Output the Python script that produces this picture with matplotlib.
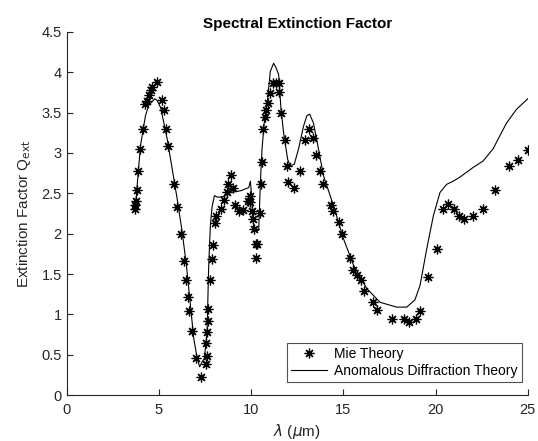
import matplotlib
matplotlib.use("Agg")
import matplotlib.pyplot as plt

plt.rcParams['font.family'] = ['Liberation Sans', 'DejaVu Sans']
plt.rcParams['mathtext.fontset'] = 'dejavusans'

mie_x = [3.68, 3.72, 3.75, 3.81, 3.88, 4.00, 4.11, 4.26, 4.33, 4.47, 4.55, 4.65, 4.89,
         5.14, 5.30, 5.41, 5.50, 5.84, 5.97, 6.20, 6.37, 6.49, 6.58, 6.64, 6.80, 7.00,
         7.29, 7.54, 7.58, 7.56, 7.63, 7.67, 7.68, 7.77, 7.87, 7.95, 8.06, 8.12, 8.35,
         8.53, 8.69, 8.75, 8.90, 9.02, 9.13, 9.33, 9.56, 9.81, 9.92, 9.96, 10.05, 10.08,
         10.14, 10.25, 10.34, 10.28, 10.46, 10.54, 10.57, 10.66, 10.75, 10.81, 10.91,
         11.04, 11.16, 11.35, 11.49, 11.49, 11.60, 11.81, 11.94, 12.00, 12.34, 12.63,
         12.92, 13.16, 13.35, 13.51, 13.74, 13.90, 14.32, 14.45, 14.74, 14.90, 15.35,
         15.55, 15.73, 15.93, 16.13, 16.61, 16.85, 17.66, 18.29, 18.56, 18.92, 19.16,
         19.61, 20.09, 20.42, 20.65, 21.00, 21.25, 21.54, 22.04, 22.55, 23.23, 23.99,
         24.46, 25.00]
mie_y = [2.30, 2.35, 2.40, 2.54, 2.77, 3.05, 3.30, 3.61, 3.64, 3.72, 3.78, 3.81, 3.88,
         3.65, 3.53, 3.29, 3.08, 2.61, 2.33, 1.99, 1.66, 1.43, 1.21, 1.04, 0.79, 0.46,
         0.22, 0.38, 0.48, 0.64, 0.78, 0.92, 1.07, 1.43, 1.69, 1.86, 2.13, 2.22, 2.31,
         2.42, 2.52, 2.62, 2.72, 2.56, 2.36, 2.28, 2.29, 2.41, 2.47, 2.39, 2.28, 2.18,
         2.06, 1.87, 1.87, 1.70, 2.26, 2.62, 2.89, 3.29, 3.44, 3.53, 3.62,
         3.74, 3.86, 3.86, 3.87, 3.75, 3.49, 3.16, 2.84, 2.64, 2.56, 2.77,
         3.16, 3.29, 3.18, 2.97, 2.77, 2.61, 2.35, 2.28, 2.15, 2.00, 1.70,
         1.55, 1.49, 1.42, 1.29, 1.15, 1.06, 0.94, 0.94, 0.90, 0.94, 1.04,
         1.46, 1.81, 2.31, 2.37, 2.31, 2.22, 2.18, 2.22, 2.31, 2.54, 2.84,
         2.91, 3.03]

adt_x = [3.70, 3.79, 4.00, 4.27, 4.45, 4.78, 4.90, 5.09, 5.27, 5.45, 5.72, 5.99, 6.26,
         6.49, 6.71, 6.89, 7.07, 7.21, 7.34, 7.47, 7.61, 7.70, 7.79, 7.88, 8.01, 8.19,
         8.51, 8.87, 9.42, 9.87, 9.96, 10.01, 10.14, 10.32, 10.41, 10.50, 10.59, 10.71,
         10.89, 11.04, 11.22, 11.36, 11.49, 11.62, 11.76, 11.98, 12.12, 12.34, 12.57,
         12.84, 13.02, 13.17, 13.38, 13.65, 13.92, 14.46, 15.00, 15.55, 16.27, 16.99,
         17.89, 18.44, 18.88, 19.16, 19.52, 19.88, 20.24, 20.60, 20.96, 21.32, 21.68,
         22.04, 22.58, 23.12, 23.48, 23.85, 24.39, 25.00]
adt_y = [2.28, 2.51, 3.09, 3.46, 3.59, 3.67, 3.65, 3.56, 3.37, 3.17, 2.80, 2.43, 2.02,
         1.61, 1.11, 0.70, 0.46, 0.35, 0.41, 0.46, 0.79, 1.61, 2.10, 2.33, 2.47, 2.45,
         2.46, 2.51, 2.53, 2.57, 2.65, 2.51, 2.06, 2.04, 2.04, 2.63, 3.05, 3.37,
         3.66, 4.01, 4.11, 4.05, 3.97, 3.54, 3.25, 2.92, 2.84, 2.86, 3.05,
         3.33, 3.46, 3.48, 3.37, 3.05, 2.72, 2.35, 1.94, 1.61, 1.32, 1.15,
         1.09, 1.09, 1.18, 1.36, 1.81, 2.22, 2.51, 2.61, 2.65, 2.70, 2.76,
         2.82, 2.90, 3.05, 3.21, 3.37, 3.54, 3.67]

xticks = [0, 5, 10, 15, 20, 25]
yticks = [0, 0.5, 1, 1.5, 2, 2.5, 3, 3.5, 4, 4.5]
ytick_labels = ['0', '0.5', '1', '1.5', '2', '2.5', '3', '3.5', '4', '4.5']

fig = plt.figure(figsize=(5.38, 4.41), dpi=100)
ax = fig.add_axes([0.124, 0.104, 0.857, 0.824])

ax.plot(mie_x, mie_y, linestyle='none', marker=(8, 2, 0), markersize=7,
        markeredgewidth=0.9, color='black', label='Mie Theory')
ax.plot(adt_x, adt_y, color='black', linewidth=0.8, label='Anomalous Diffraction Theory')

ax.set_xlim(0, 25)
ax.set_ylim(0, 4.5)
ax.set_xticks(xticks)
ax.set_xticklabels([str(t) for t in xticks])
ax.set_yticks(yticks)
ax.set_yticklabels(ytick_labels)
ax.tick_params(direction='in', length=4, width=0.8, labelsize=10.5, colors='#262626',
               labelcolor='#262626')
ax.tick_params(axis='x', pad=6)
ax.spines['top'].set_visible(False)
ax.spines['right'].set_visible(False)
for s in ('left', 'bottom'):
    ax.spines[s].set_color('#262626')
    ax.spines[s].set_linewidth(0.8)

ax.set_title('Spectral Extinction Factor', fontsize=11, fontweight='bold', pad=3)
ax.set_xlabel(r'$\lambda$ ($\mu$m)', fontsize=11, color='#262626', labelpad=3)
ax.set_ylabel(r'Extinction Factor Q$_{\rm ext}$', fontsize=11, color='#262626', labelpad=6)

leg = ax.legend(loc='lower right', bbox_to_anchor=(0.987, 0.036), borderaxespad=0,
                fontsize=10, frameon=True, fancybox=False, edgecolor='#262626',
                handlelength=2.6, borderpad=0.3, labelspacing=0.2, handletextpad=0.5)
leg.get_frame().set_linewidth(0.8)

fig.savefig('out.png', dpi=100)
